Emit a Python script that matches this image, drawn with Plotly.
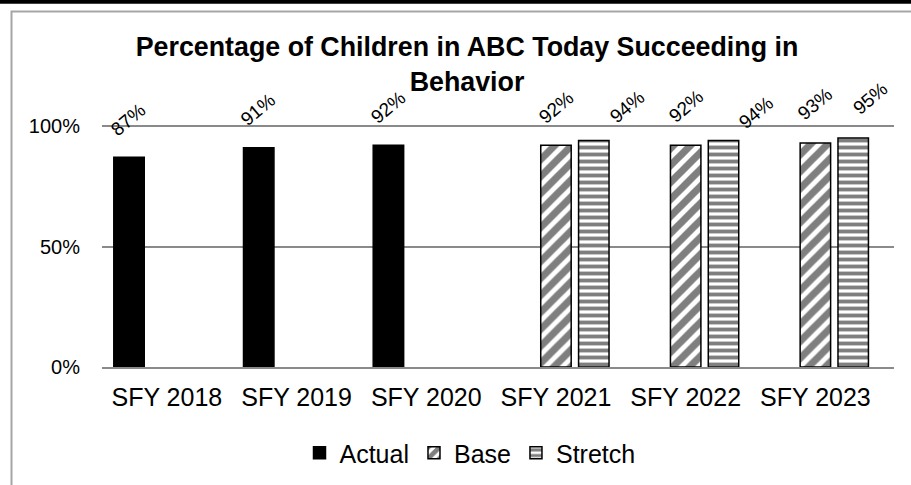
import plotly.graph_objects as go

# ---- data ----
categories = ["SFY 2018", "SFY 2019", "SFY 2020", "SFY 2021", "SFY 2022", "SFY 2023"]
actual = [87, 91, 92, None, None, None]
base = [None, None, None, 92, 92, 93]
stretch = [None, None, None, 94, 94, 95]
y_tick_vals = [0, 50, 100]
y_tick_text = ["0%", "50%", "100%"]
series_names = ["Actual", "Base", "Stretch"]

# label nudges (pixels) per series, per category: (dx, dy-up)
label_dx = [[0] * 6, [0] * 6, [0, 0, 0, 33, 32, 16]]
label_up = [[38] * 6, [38, 38, 38, 38, 39, 39], [38, 38, 38, 34, 28, 40]]

# ---- layout constants ----
W, H = 911, 485
ML, MR, MT, MB = 102, 17, 123, 118
PW = W - ML - MR
PH = H - MT - MB
Y_MAX = 101.25
BARGAP = 0.125
GROUPGAP = 0.195
FONT = "Arial, Liberation Sans, sans-serif"
GRID = "#8a8a8a"


def px_x(p):
    return (p - ML) / PW


def px_y(p):
    return (H - MB - p) / PH


fig = go.Figure()
fig.add_bar(name="Actual", x=categories, y=actual,
            marker=dict(color="black", line=dict(color="black", width=1.5)))
fig.add_bar(name="Base", x=categories, y=base,
            marker=dict(color="white", line=dict(color="black", width=1.5),
                        pattern=dict(shape="/", fgcolor="black", bgcolor="white",
                                     size=12, solidity=0.6, fillmode="overlay")))
fig.add_bar(name="Stretch", x=categories, y=stretch,
            marker=dict(color="white", line=dict(color="black", width=1.5),
                        pattern=dict(shape="-", fgcolor="black", bgcolor="white",
                                     size=7, solidity=0.55, fillmode="overlay")))

cat_w = PW / len(categories)
slot = cat_w * (1 - BARGAP) / 3
annotations = []
for si, vals in enumerate([actual, base, stretch]):
    for ci, v in enumerate(vals):
        if v is None:
            continue
        annotations.append(dict(
            x=categories[ci], y=v, xref="x", yref="y", text=f"{v}%",
            showarrow=False, textangle=-40,
            xshift=(si - 1) * slot + label_dx[si][ci], yshift=label_up[si][ci],
            font=dict(family=FONT, size=19, color="black"),
            xanchor="center", yanchor="middle"))

shapes = [
    dict(type="line", xref="paper", yref="paper", x0=px_x(-5), x1=px_x(W + 5),
         y0=px_y(1.75), y1=px_y(1.75), line=dict(color="black", width=4)),
    dict(type="path", xref="paper", yref="paper",
         path=f"M {px_x(11.5)} {px_y(H + 10)} L {px_x(11.5)} {px_y(11.5)} L {px_x(W + 10)} {px_y(11.5)}",
         line=dict(color="#a6a6a6", width=2)),
]

fig.update_layout(
    width=W, height=H,
    margin=dict(l=ML, r=MR, t=MT, b=MB, autoexpand=False),
    paper_bgcolor="white", plot_bgcolor="white",
    barmode="group", bargap=BARGAP, bargroupgap=GROUPGAP,
    title=dict(text="<b>Percentage of Children in ABC Today Succeeding in<br>Behavior</b>",
               x=467 / W, xanchor="center", y=1 - 56 / H, yanchor="middle",
               font=dict(family=FONT, size=26.8, color="black")),
    font=dict(family=FONT, color="black"),
    showlegend=True,
    legend=dict(orientation="h", x=px_x(470), xanchor="center",
                y=px_y(453), yanchor="middle",
                font=dict(family=FONT, size=25, color="black"),
                bgcolor="rgba(0,0,0,0)", traceorder="normal"),
    annotations=annotations,
    shapes=shapes,
)
fig.update_yaxes(range=[0, Y_MAX], tickvals=y_tick_vals, ticktext=y_tick_text,
                 showgrid=True, gridcolor=GRID, gridwidth=1.5, zeroline=False,
                 showline=False, ticks="", ticklabelstandoff=21,
                 tickfont=dict(family=FONT, size=20, color="black"))
fig.update_xaxes(showline=True, linecolor=GRID, linewidth=1.5, ticks="",
                 ticklabelstandoff=7,
                 tickfont=dict(family=FONT, size=25, color="black"))

fig.write_html("out.html", config={"displayModeBar": False},
               post_script="document.body.style.margin='0';document.body.style.overflow='hidden';")
